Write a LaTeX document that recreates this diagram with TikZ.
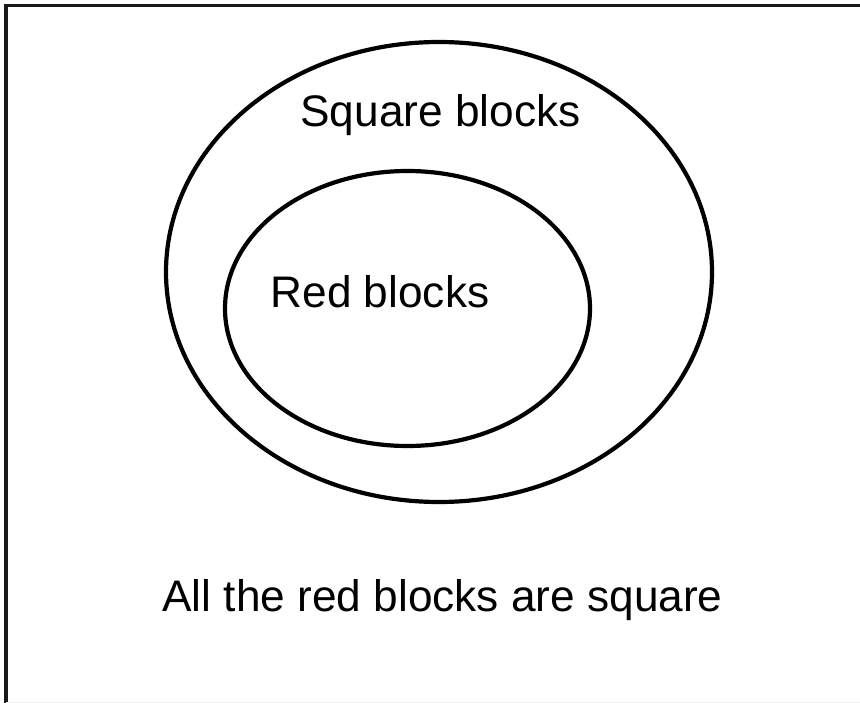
\documentclass[tikz,border=0pt]{standalone}
\usepackage{fontspec}
\setmainfont{Liberation Sans}
\usetikzlibrary{shapes.geometric}
\begin{document}
\begin{tikzpicture}[x=1pt,y=-1pt,
  frameline/.style={line width=3.5pt,black!90},
  setline/.style={line width=4.2pt,black},
  lbl/.style={font=\fontsize{44.2}{50}\selectfont,anchor=base,inner sep=0pt}]
\useasboundingbox (0,0) rectangle (860,703);
\fill[white] (0,0) rectangle (860,703);
\coordinate (tl) at (6,5.5);
\coordinate (tr) at (860,5.5);
\coordinate (bl) at (6,703);
\draw[frameline] (tr) -- (tl) -- (bl);
\draw[gray!12,line width=1pt] (6,702) -- (860,702);
\node[setline,draw,ellipse,minimum width=546pt,minimum height=460pt,inner sep=0pt] (outer) at (439,272) {};
\node[setline,draw,ellipse,minimum width=365pt,minimum height=275pt,inner sep=0pt] (inner) at (407.5,308.5) {};
\node[lbl] (sq) at (440.5,127) {Square blocks};
\node[lbl] (red) at (380,308) {Red blocks};
\node[lbl] (all) at (442.5,611) {All the red blocks are square};
\end{tikzpicture}
\end{document}
